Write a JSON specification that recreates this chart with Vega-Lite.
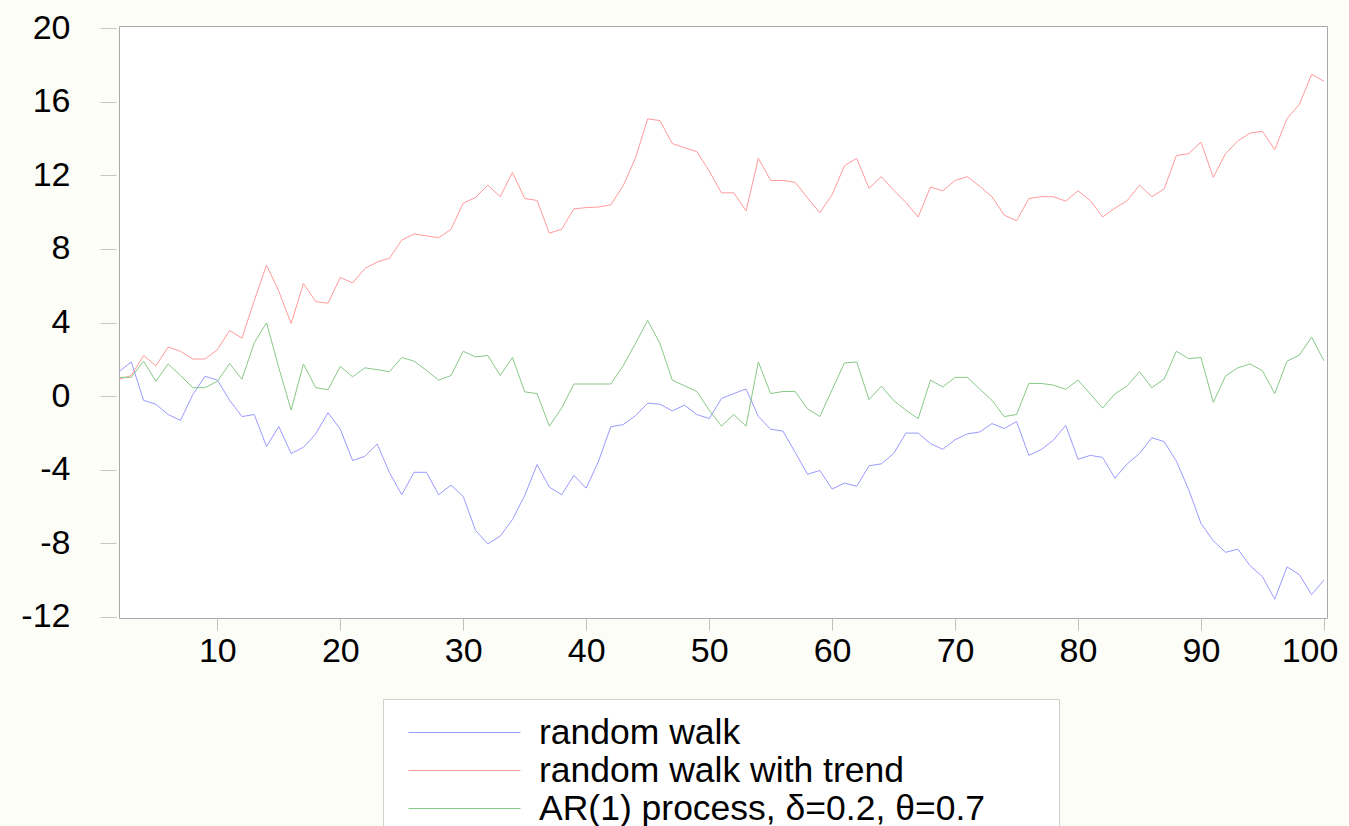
{
  "$schema": "https://vega.github.io/schema/vega-lite/v6.json",
  "width": 1208,
  "height": 592,
  "autosize": {"type": "none"},
  "padding": {"left": 119, "top": 26, "right": 22, "bottom": 208},
  "background": "#fdfdf7",
  "config": {
    "view": {"fill": "white", "stroke": "#a8a8a8", "strokeWidth": 1},
    "font": "Liberation Sans"
  },
  "data": {
    "values": [
      {"t": 2, "rw": 1.33, "rwt": 0.92, "ar": 1.02},
      {"t": 3, "rw": 1.86, "rwt": 1.12, "ar": 1.02},
      {"t": 4, "rw": -0.23, "rwt": 2.21, "ar": 1.9},
      {"t": 5, "rw": -0.44, "rwt": 1.65, "ar": 0.81},
      {"t": 6, "rw": -1.0, "rwt": 2.67, "ar": 1.75},
      {"t": 7, "rw": -1.32, "rwt": 2.44, "ar": 1.12},
      {"t": 8, "rw": 0.08, "rwt": 2.02, "ar": 0.46},
      {"t": 9, "rw": 1.08, "rwt": 2.02, "ar": 0.46},
      {"t": 10, "rw": 0.87, "rwt": 2.52, "ar": 0.81},
      {"t": 11, "rw": -0.23, "rwt": 3.57, "ar": 1.77},
      {"t": 12, "rw": -1.11, "rwt": 3.15, "ar": 0.92},
      {"t": 13, "rw": -1.0, "rwt": 5.2, "ar": 2.9},
      {"t": 14, "rw": -2.74, "rwt": 7.12, "ar": 3.99},
      {"t": 15, "rw": -1.65, "rwt": 5.7, "ar": 1.54},
      {"t": 16, "rw": -3.12, "rwt": 3.95, "ar": -0.76},
      {"t": 17, "rw": -2.78, "rwt": 6.12, "ar": 1.75},
      {"t": 18, "rw": -2.05, "rwt": 5.14, "ar": 0.46},
      {"t": 19, "rw": -0.9, "rwt": 5.05, "ar": 0.35},
      {"t": 20, "rw": -1.8, "rwt": 6.45, "ar": 1.62},
      {"t": 21, "rw": -3.5, "rwt": 6.15, "ar": 1.05},
      {"t": 22, "rw": -3.27, "rwt": 6.94, "ar": 1.54},
      {"t": 23, "rw": -2.6, "rwt": 7.29, "ar": 1.44},
      {"t": 24, "rw": -4.16, "rwt": 7.5, "ar": 1.33},
      {"t": 25, "rw": -5.36, "rwt": 8.48, "ar": 2.1},
      {"t": 26, "rw": -4.14, "rwt": 8.82, "ar": 1.9},
      {"t": 27, "rw": -4.14, "rwt": 8.71, "ar": 1.4},
      {"t": 28, "rw": -5.36, "rwt": 8.61, "ar": 0.87},
      {"t": 29, "rw": -4.83, "rwt": 9.07, "ar": 1.12},
      {"t": 30, "rw": -5.46, "rwt": 10.49, "ar": 2.44},
      {"t": 31, "rw": -7.3, "rwt": 10.8, "ar": 2.13},
      {"t": 32, "rw": -8.03, "rwt": 11.47, "ar": 2.21},
      {"t": 33, "rw": -7.61, "rwt": 10.84, "ar": 1.12},
      {"t": 34, "rw": -6.71, "rwt": 12.16, "ar": 2.1},
      {"t": 35, "rw": -5.4, "rwt": 10.74, "ar": 0.23},
      {"t": 36, "rw": -3.72, "rwt": 10.64, "ar": 0.14},
      {"t": 37, "rw": -4.94, "rwt": 8.86, "ar": -1.63},
      {"t": 38, "rw": -5.36, "rwt": 9.07, "ar": -0.65},
      {"t": 39, "rw": -4.31, "rwt": 10.18, "ar": 0.66},
      {"t": 40, "rw": -5.0, "rwt": 10.25, "ar": 0.66},
      {"t": 41, "rw": -3.54, "rwt": 10.28, "ar": 0.66},
      {"t": 42, "rw": -1.66, "rwt": 10.4, "ar": 0.66},
      {"t": 43, "rw": -1.55, "rwt": 11.43, "ar": 1.65},
      {"t": 44, "rw": -1.07, "rwt": 12.93, "ar": 2.86},
      {"t": 45, "rw": -0.38, "rwt": 15.07, "ar": 4.11},
      {"t": 46, "rw": -0.44, "rwt": 14.98, "ar": 2.86},
      {"t": 47, "rw": -0.8, "rwt": 13.73, "ar": 0.87},
      {"t": 48, "rw": -0.49, "rwt": 13.5, "ar": 0.56},
      {"t": 49, "rw": -1.0, "rwt": 13.29, "ar": 0.25},
      {"t": 50, "rw": -1.22, "rwt": 12.24, "ar": -0.76},
      {"t": 51, "rw": -0.13, "rwt": 11.05, "ar": -1.63},
      {"t": 52, "rw": 0.14, "rwt": 11.05, "ar": -1.0},
      {"t": 53, "rw": 0.39, "rwt": 10.07, "ar": -1.63},
      {"t": 54, "rw": -1.11, "rwt": 12.93, "ar": 1.86},
      {"t": 55, "rw": -1.8, "rwt": 11.72, "ar": 0.14},
      {"t": 56, "rw": -1.9, "rwt": 11.72, "ar": 0.25},
      {"t": 57, "rw": -3.06, "rwt": 11.62, "ar": 0.25},
      {"t": 58, "rw": -4.25, "rwt": 10.78, "ar": -0.69},
      {"t": 59, "rw": -4.04, "rwt": 9.97, "ar": -1.11},
      {"t": 60, "rw": -5.05, "rwt": 10.95, "ar": 0.35},
      {"t": 61, "rw": -4.73, "rwt": 12.52, "ar": 1.8},
      {"t": 62, "rw": -4.9, "rwt": 12.93, "ar": 1.86},
      {"t": 63, "rw": -3.79, "rwt": 11.3, "ar": -0.19},
      {"t": 64, "rw": -3.68, "rwt": 11.93, "ar": 0.54},
      {"t": 65, "rw": -3.12, "rwt": 11.2, "ar": -0.23},
      {"t": 66, "rw": -2.01, "rwt": 10.53, "ar": -0.76},
      {"t": 67, "rw": -2.01, "rwt": 9.74, "ar": -1.22},
      {"t": 68, "rw": -2.58, "rwt": 11.37, "ar": 0.87},
      {"t": 69, "rw": -2.89, "rwt": 11.16, "ar": 0.5},
      {"t": 70, "rw": -2.37, "rwt": 11.72, "ar": 1.02},
      {"t": 71, "rw": -2.05, "rwt": 11.93, "ar": 1.02},
      {"t": 72, "rw": -1.95, "rwt": 11.41, "ar": 0.39},
      {"t": 73, "rw": -1.49, "rwt": 10.84, "ar": -0.23},
      {"t": 74, "rw": -1.76, "rwt": 9.84, "ar": -1.11},
      {"t": 75, "rw": -1.38, "rwt": 9.53, "ar": -1.0},
      {"t": 76, "rw": -3.22, "rwt": 10.74, "ar": 0.69},
      {"t": 77, "rw": -2.91, "rwt": 10.84, "ar": 0.69},
      {"t": 78, "rw": -2.39, "rwt": 10.84, "ar": 0.6},
      {"t": 79, "rw": -1.59, "rwt": 10.6, "ar": 0.37},
      {"t": 80, "rw": -3.43, "rwt": 11.16, "ar": 0.87},
      {"t": 81, "rw": -3.22, "rwt": 10.63, "ar": 0.12},
      {"t": 82, "rw": -3.33, "rwt": 9.74, "ar": -0.65},
      {"t": 83, "rw": -4.46, "rwt": 10.22, "ar": 0.12},
      {"t": 84, "rw": -3.68, "rwt": 10.63, "ar": 0.56},
      {"t": 85, "rw": -3.12, "rwt": 11.47, "ar": 1.33},
      {"t": 86, "rw": -2.26, "rwt": 10.84, "ar": 0.46},
      {"t": 87, "rw": -2.47, "rwt": 11.26, "ar": 0.92},
      {"t": 88, "rw": -3.54, "rwt": 13.08, "ar": 2.44},
      {"t": 89, "rw": -5.08, "rwt": 13.18, "ar": 2.04},
      {"t": 90, "rw": -6.92, "rwt": 13.81, "ar": 2.1},
      {"t": 91, "rw": -7.86, "rwt": 11.89, "ar": -0.34},
      {"t": 92, "rw": -8.49, "rwt": 13.18, "ar": 1.1},
      {"t": 93, "rw": -8.32, "rwt": 13.88, "ar": 1.54},
      {"t": 94, "rw": -9.22, "rwt": 14.3, "ar": 1.75},
      {"t": 95, "rw": -9.81, "rwt": 14.4, "ar": 1.38},
      {"t": 96, "rw": -11.04, "rwt": 13.4, "ar": 0.14},
      {"t": 97, "rw": -9.28, "rwt": 15.09, "ar": 1.9},
      {"t": 98, "rw": -9.7, "rwt": 15.86, "ar": 2.23},
      {"t": 99, "rw": -10.79, "rwt": 17.49, "ar": 3.21},
      {"t": 100, "rw": -10.0, "rwt": 17.12, "ar": 1.92}
    ]
  },
  "transform": [{"fold": ["rw", "rwt", "ar"], "as": ["series", "value"]}],
  "mark": {"type": "line", "strokeWidth": 1, "clip": true},
  "encoding": {
    "x": {
      "field": "t",
      "type": "quantitative",
      "scale": {"domain": [2, 100.25], "nice": false, "zero": false},
      "axis": {
        "values": [10, 20, 30, 40, 50, 60, 70, 80, 90, 100],
        "domain": false,
        "grid": false,
        "tickColor": "#c0c0c0",
        "tickSize": 12,
        "labelFontSize": 34,
        "labelColor": "black",
        "labelPadding": 4,
        "labelFlush": 6,
        "labelFlushOffset": 14,
        "title": null
      }
    },
    "y": {
      "field": "value",
      "type": "quantitative",
      "scale": {"domain": [-12.06, 20.12], "nice": false, "zero": false},
      "axis": {
        "values": [-12, -8, -4, 0, 4, 8, 12, 16, 20],
        "domain": false,
        "grid": false,
        "offset": 3,
        "tickSize": 16,
        "tickColor": "#c8c8c0",
        "labelPadding": 30,
        "labelFontSize": 34,
        "labelColor": "black",
        "labelExpr": "toString(datum.value)",
        "title": null
      }
    },
    "color": {
      "field": "series",
      "type": "nominal",
      "scale": {"domain": ["rw", "rwt", "ar"], "range": ["#9a9aff", "#ff9a9a", "#88c888"]},
      "legend": {
        "orient": "none",
        "legendX": 264,
        "legendY": 673,
        "direction": "vertical",
        "symbolType": "stroke",
        "symbolSize": 12544,
        "symbolStrokeWidth": 1,
        "symbolOffset": 9,
        "clipHeight": 35,
        "labelFontSize": 35.5,
        "labelColor": "black",
        "labelOffset": 18,
        "labelLimit": 800,
        "padding": 16,
        "rowPadding": 2,
        "strokeColor": "#d0d0c8",
        "fillColor": "white",
        "title": " ",
        "titleOrient": "right",
        "titleFontSize": 1,
        "titlePadding": 58,
        "labelExpr": "datum.label == 'rw' ? 'random walk' : datum.label == 'rwt' ? 'random walk with trend' : 'AR(1) process, δ=0.2, θ=0.7'"
      }
    }
  }
}
